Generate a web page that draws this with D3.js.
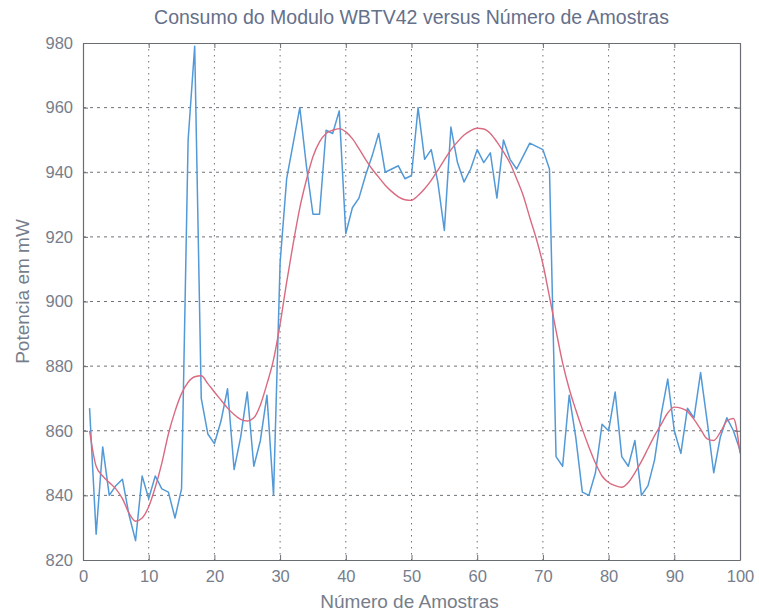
<!DOCTYPE html>
<html>
<head>
<meta charset="utf-8">
<script src="https://cdn.jsdelivr.net/npm/d3@7/dist/d3.min.js"></script>
<style>
  html, body { margin: 0; padding: 0; background: #fff; }
  svg { display: block; }
  text { font-family: "Liberation Sans", Arial, sans-serif; }
</style>
</head>
<body>
<svg id="chart" width="759" height="615"></svg>
<script>
// Measured power of the WBTV42 module, one reading per sample (mW)
const samples = d3.range(1, 101);
const consumo = [
  867, 828, 855, 840, 843, 845, 834, 826, 846, 839,
  846, 842, 841, 833, 842, 950, 979, 870, 859, 856,
  863, 873, 848, 858, 872, 849, 857, 871, 840, 912,
  938, 949, 960, 942, 927, 927, 953, 952, 959, 921,
  929, 932, 939, 945, 952, 940, 941, 942, 938, 939,
  960, 944, 947, 937, 922, 954, 943, 937, 941, 947,
  943, 946, 932, 950, 944, 941, 945, 949, 948, 947,
  941, 852, 849, 871, 858, 841, 840, 847, 862, 860,
  872, 852, 849, 857, 840, 843, 851, 865, 876, 860,
  853, 867, 864, 878, 863, 847, 858, 864, 860, 854
];
// Smoothed fit of the same readings
const ajuste = [
  860, 849, 846, 844, 842, 839, 834.5, 832, 833, 836.5,
  842.5, 850, 859, 866, 871.5, 875, 876.7, 877, 874.6, 872,
  869.5, 867, 865, 863.5, 863, 864, 868, 874.5, 882, 893,
  906, 918, 929, 937.6, 944.8, 949.4, 952, 953, 953.5, 952.5,
  950.4, 947.3, 944, 941, 938.5, 936, 934, 932.4, 931.5, 931.3,
  932.8, 934.9, 937.5, 940.6, 943.8, 946.9, 949.4, 951.5, 952.9, 953.6,
  953.4, 952, 949.4, 946.3, 942.8, 938, 932.8, 926, 919.4, 911.6,
  901.5, 891, 881, 873, 866.5, 860.5, 855, 850, 846, 844,
  843, 842.5, 844, 847, 850.5, 854.5, 858.5, 862, 865.5, 867.3,
  867, 866, 863.5, 860.5, 857.5, 857, 859.5, 863, 863.8, 853
];
const xTicks = [0, 10, 20, 30, 40, 50, 60, 70, 80, 90, 100];
const yTicks = [820, 840, 860, 880, 900, 920, 940, 960, 980];

const titulo = "Consumo do Modulo WBTV42 versus Número de Amostras";
const rotuloX = "Número de Amostras";
const rotuloY = "Potencia em mW";

const m = { left: 83, top: 43, right: 19, bottom: 55 };
const W = 759, H = 615;
const iw = W - m.left - m.right, ih = H - m.top - m.bottom;

const svg = d3.select("#chart");
const g = svg.append("g").attr("transform", `translate(${m.left},${m.top})`);

const x = d3.scaleLinear().domain([0, 100]).range([0, iw]);
const y = d3.scaleLinear().domain([820, 980]).range([ih, 0]);

const textCol = "#767d8b";
const axisCol = "#6a6d73";
const gridCol = "#6e7177";

// dotted grid
g.append("g").selectAll("line").data(xTicks.slice(1, -1)).join("line")
  .attr("x1", d => x(d)).attr("x2", d => x(d))
  .attr("y1", 0).attr("y2", ih)
  .attr("stroke", gridCol).attr("stroke-width", 1)
  .attr("stroke-dasharray", "1.5,4.5");
g.append("g").selectAll("line").data(yTicks.slice(1, -1)).join("line")
  .attr("x1", 0).attr("x2", iw)
  .attr("y1", d => y(d)).attr("y2", d => y(d))
  .attr("stroke", gridCol).attr("stroke-width", 1)
  .attr("stroke-dasharray", "3,4");

// series
const line = d3.line().x((d, i) => x(samples[i])).y(d => y(d));
g.append("path").datum(consumo)
  .attr("d", line)
  .attr("fill", "none").attr("stroke", "#5299d8").attr("stroke-width", 1.5)
  .attr("stroke-linejoin", "round");
g.append("path").datum(ajuste)
  .attr("d", line.curve(d3.curveMonotoneX))
  .attr("fill", "none").attr("stroke", "#d96a80").attr("stroke-width", 1.4);

// axes with inward ticks on all four sides
const tl = 5;
const axB = g.append("g").attr("transform", `translate(0,${ih})`)
  .call(d3.axisBottom(x).tickValues(xTicks).tickSizeInner(-tl).tickSizeOuter(0).tickPadding(10));
const axT = g.append("g")
  .call(d3.axisTop(x).tickValues(xTicks).tickSizeInner(-tl).tickSizeOuter(0).tickFormat(""));
const axL = g.append("g")
  .call(d3.axisLeft(y).tickValues(yTicks).tickSizeInner(-tl).tickSizeOuter(0).tickPadding(10));
const axR = g.append("g").attr("transform", `translate(${iw},0)`)
  .call(d3.axisRight(y).tickValues(yTicks).tickSizeInner(-tl).tickSizeOuter(0).tickFormat(""));

[axB, axT, axL, axR].forEach(a => {
  a.select(".domain").attr("stroke", axisCol).attr("stroke-width", 1.2);
  a.selectAll(".tick line").attr("stroke", axisCol);
  a.selectAll(".tick text").attr("fill", textCol)
    .style("font-family", '"Liberation Sans", Arial, sans-serif')
    .style("font-size", "16.5px");
});
axB.selectAll(".tick text").attr("dy", "0.75em");

// title and axis labels
svg.append("text").attr("x", m.left + iw / 2).attr("y", 24)
  .attr("text-anchor", "middle").attr("fill", "#65708a")
  .style("font-size", "19.5px").text(titulo);
svg.append("text").attr("x", m.left + iw / 2 - 2).attr("y", 608)
  .attr("text-anchor", "middle").attr("fill", textCol)
  .style("font-size", "19px").text(rotuloX);
svg.append("text")
  .attr("transform", `translate(29,${m.top + ih / 2 - 10}) rotate(-90)`)
  .attr("text-anchor", "middle").attr("fill", textCol)
  .style("font-size", "19px").text(rotuloY);
</script>
</body>
</html>
